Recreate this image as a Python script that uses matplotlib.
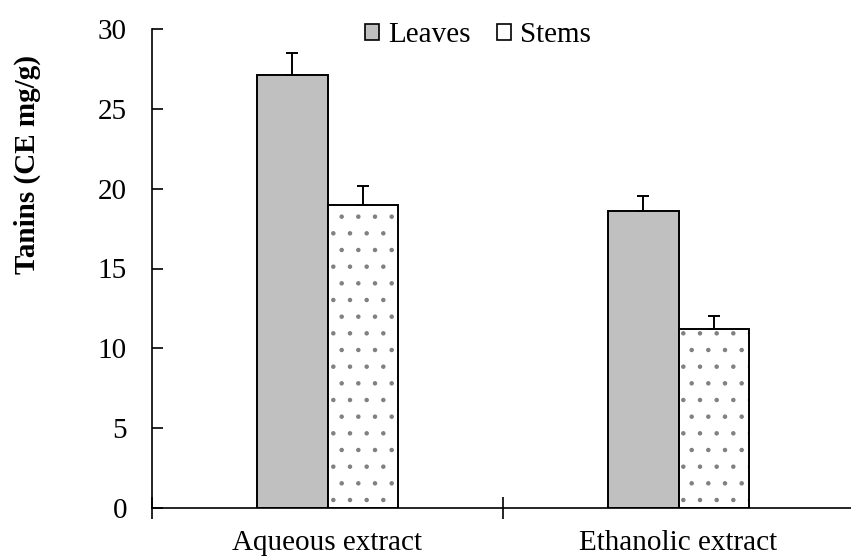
import matplotlib
matplotlib.use('Agg')
import numpy as np
from matplotlib import pyplot as plt
from matplotlib.patches import Patch

categories = ['Aqueous extract', 'Ethanolic extract']
leaves = [27.1, 18.6]
leaves_err = [1.4, 0.95]
stems = [19.0, 11.2]
stems_err = [1.15, 0.8]

plt.rcParams['font.family'] = ['Liberation Serif', 'DejaVu Serif']
plt.rcParams['hatch.linewidth'] = 0.8

fig = plt.figure(figsize=(8.51, 5.56), dpi=100)
ax = fig.add_axes([152 / 851, 48 / 556, 702 / 851, 479 / 556])

x = np.arange(len(categories))
w = 0.2

ax.bar(x - w / 2, leaves, w, color='#c0c0c0', edgecolor='black', linewidth=1.4,
       label='Leaves', zorder=2)
# dotted fill for stems: hatch drawn in gray, outline drawn on top in black
ax.bar(x + w / 2, stems, w, color='white', edgecolor='#808080', hatch='.',
       linewidth=0, zorder=2)
ax.bar(x + w / 2, stems, w, color='none', edgecolor='black', linewidth=1.4, zorder=3)

ax.errorbar(x - w / 2, leaves, yerr=[[0, 0], leaves_err], fmt='none', ecolor='black',
            elinewidth=1.4, capsize=4.3, capthick=1.4, zorder=4)
ax.errorbar(x + w / 2, stems, yerr=[[0, 0], stems_err], fmt='none', ecolor='black',
            elinewidth=1.4, capsize=4.3, capthick=1.4, zorder=4)

ax.set_xlim(-0.5, 1.5)
ax.set_ylim(0, 30)
ax.set_yticks(range(0, 31, 5))
ax.tick_params(axis='y', direction='in', length=8, width=1.2, labelsize=21, pad=18)
ax.set_xticks([-0.5, 0.5, 1.5])
ax.set_xticklabels(['', '', ''])
ax.tick_params(axis='x', which='major', direction='inout', length=16, width=1.2)
ax.set_xticks(x, minor=True)
ax.set_xticklabels(categories, minor=True)
ax.tick_params(axis='x', which='minor', length=0, labelsize=21, pad=15.5)

for s in ['top', 'right']:
    ax.spines[s].set_visible(False)
for s in ['left', 'bottom']:
    ax.spines[s].set_linewidth(1.2)

ax.set_ylabel('Tanins (CE mg/g)', fontsize=21, fontweight='bold')
ax.yaxis.set_label_coords(-0.158, 0.718)

handles = [Patch(facecolor='#c0c0c0', edgecolor='black', linewidth=1.2),
           Patch(facecolor='white', edgecolor='black', linewidth=1.2)]
ax.legend(handles, ['Leaves', 'Stems'], loc='center', ncol=2, frameon=False,
          fontsize=21, handlelength=0.48, handleheight=0.48, handletextpad=0.3,
          columnspacing=0.9, borderpad=0, bbox_to_anchor=(478 / 851, 1 - 35 / 556),
          bbox_transform=fig.transFigure)

fig.savefig('out.png', dpi=100)
